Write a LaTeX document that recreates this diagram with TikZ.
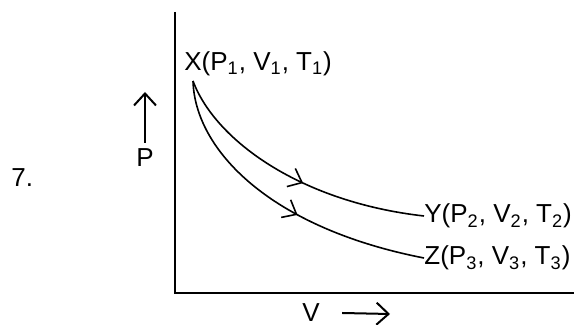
\documentclass[tikz,border=0pt]{standalone}
\usepackage{fontspec}
\setmainfont{Liberation Sans}
\usetikzlibrary{arrows.meta, decorations.markings}

\begin{document}
\begin{tikzpicture}[
    x=0.5pt, y=-0.5pt,
    lbl/.style={inner sep=0pt, font=\fontsize{13}{15}\selectfont},
    axis/.style={line width=1pt},
    process/.style={line width=0.8pt, postaction={decorate}, decoration={markings,
        mark=at position #1 with {\arrow{Straight Barb[length=6pt, width=10pt, line width=0.8pt]}}}},
    arrow/.style={-{Straight Barb[length=6pt, width=11pt]}, line width=1pt}
]
\useasboundingbox (0,0) rectangle (574,325);

% Nodes
\node[lbl, anchor=west] (num) at (11,178) {7.};
\node[lbl] (p) at (145,158) {P};
\coordinate (ptip) at (145,92);
\node[lbl] (v) at (311,313) {V};
\coordinate (vtip) at (390,314);
\node[lbl, anchor=west] (x) at (184,64) {X(P\textsubscript{1}, V\textsubscript{1}, T\textsubscript{1})};
\node[lbl, anchor=west] (y) at (424,216) {Y(P\textsubscript{2}, V\textsubscript{2}, T\textsubscript{2})};
\node[lbl, anchor=west] (z) at (424,258) {Z(P\textsubscript{3}, V\textsubscript{3}, T\textsubscript{3})};
\coordinate (start) at (193,81);
\coordinate (origin) at (175,293);

% Axes
\draw[axis] (175,12) -- (origin) -- (574,293);
\draw[arrow] (p.north) ++(0,-6) -- (ptip);
\draw[arrow] (v.east) ++(22,0) -- (vtip);

% Connections
\draw[process=0.55] (start) .. controls (215,140) and (300,202) .. (y.west);
\draw[process=0.57] (start) .. controls (195,150) and (270,228) .. (z.west);

\end{tikzpicture}
\end{document}
